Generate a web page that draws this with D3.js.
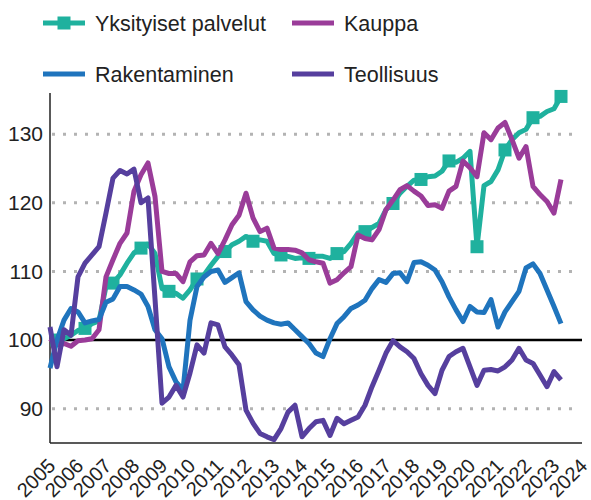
<!DOCTYPE html>
<html><head><meta charset="utf-8">
<script src="https://cdn.jsdelivr.net/npm/d3@7"></script>
<style>
html,body{margin:0;padding:0;background:#fff;}
svg{display:block;font-family:"Liberation Sans",Arial,sans-serif;}
</style></head>
<body><svg id="c" width="591" height="500"></svg>
<script>
const seriesNames = ["Yksityiset palvelut", "Kauppa", "Rakentaminen", "Teollisuus"];
const seriesColors = ["#1fb19e", "#9a3c99", "#1f74bd", "#563f9e"];
const startYear = 2005;
const quarters = d3.range(74).map(i => (startYear + Math.floor(i / 4)) + "Q" + (i % 4 + 1));
const yksityiset = [100.2,100.0,100.2,100.7,101.4,101.7,102.4,102.8,107.8,108.3,109.5,111.2,112.7,113.4,114.0,112.6,107.5,107.1,106.8,106.1,107.3,108.9,109.5,110.9,112.2,112.9,113.9,114.4,115.1,114.4,114.6,114.4,112.6,112.4,112.2,111.9,112.0,111.9,112.2,112.2,111.9,112.6,112.9,114.1,115.6,115.8,116.4,117.0,119.0,119.9,121.4,122.4,123.3,123.4,123.8,123.9,124.6,126.1,125.9,126.5,127.5,113.6,122.5,123.1,124.8,127.7,129.2,130.2,130.7,132.4,132.6,133.3,133.7,135.5];
const kauppa = [100.2,99.3,99.5,99.1,99.9,100.0,100.2,101.5,109.2,111.7,114.1,115.6,121.7,124.1,125.8,120.9,110.0,109.7,109.7,108.5,111.4,112.3,112.4,114.1,112.6,114.6,116.8,118.2,121.4,117.8,115.8,116.3,113.4,113.2,113.2,113.1,112.7,111.7,111.4,111.2,108.3,108.8,109.8,110.7,115.3,114.8,114.6,116.1,119.0,120.4,121.9,122.5,121.7,121.0,119.6,119.7,119.2,121.7,122.4,126.1,125.1,123.8,130.2,129.2,130.9,131.7,129.2,126.5,128.2,122.4,121.2,120.2,118.5,123.4];
const rakentaminen = [95.9,100.0,102.9,104.6,104.1,102.5,102.8,103.0,105.5,106.0,107.8,107.8,107.3,106.7,104.9,101.5,100.2,96.1,93.9,92.7,102.9,107.8,109.2,110.0,110.2,108.4,109.1,109.8,105.6,104.4,103.5,102.9,102.5,102.3,102.5,101.5,100.5,99.5,98.1,97.6,100.2,102.4,103.4,104.6,105.1,105.8,107.5,108.8,108.4,109.7,109.8,108.5,111.3,111.4,110.9,110.2,108.5,106.3,104.4,102.7,104.9,104.1,104.0,105.9,101.9,104.1,105.6,107.1,110.5,111.1,109.7,107.3,104.9,102.4];
const teollisuus = [101.9,96.1,101.5,100.7,109.2,111.2,112.4,113.6,118.5,123.6,124.7,124.2,124.9,120.0,120.7,106.0,90.8,91.7,93.4,91.7,95.2,99.3,98.1,102.5,102.2,99.0,97.8,96.4,89.8,87.9,86.4,85.9,85.5,87.1,89.5,90.5,85.9,87.1,88.1,88.3,86.1,88.6,87.8,88.3,88.8,90.5,93.2,95.6,98.1,99.9,99.0,98.3,97.3,95.1,93.4,92.2,95.6,97.6,98.3,98.8,96.1,93.4,95.6,95.7,95.5,96.1,97.1,98.8,97.1,96.6,94.9,93.2,95.4,94.2];
const yTicks = [90, 100, 110, 120, 130];
const xTickLabels = ["2005","2006","2007","2008","2009","2010","2011","2012","2013","2014","2015","2016","2017","2018","2019","2020","2021","2022","2023","2024"];

const svg = d3.select("#c");
const L = 50, R = 582, T = 93, B = 443;
const qToX = q => +q.slice(0,4) + (+q.slice(5) - 1) / 4;
const x = d3.scaleLinear().domain([2005, 2024]).range([L, R]);
const y = d3.scaleLinear().domain([85, 136]).range([B, T]);

// grid
svg.append("g").selectAll("line").data(yTicks.filter(v => v !== 100)).join("line")
  .attr("x1", L + 2).attr("x2", R - 2)
  .attr("y1", d => y(d)).attr("y2", d => y(d))
  .attr("stroke", "#b3b3b3").attr("stroke-width", 3).attr("stroke-dasharray", "3,8");

// baseline 100
svg.append("line").attr("x1", L).attr("x2", R).attr("y1", y(100)).attr("y2", y(100))
  .attr("stroke", "#000").attr("stroke-width", 2.5);

// y axis
const yAxis = d3.axisLeft(y).tickValues(yTicks).tickSize(0).tickPadding(7);
const gy = svg.append("g").attr("transform", `translate(${L},0)`).call(yAxis);
gy.select(".domain").remove();
gy.selectAll("text").attr("font-size", 21).attr("fill", "#222").attr("font-family", "Liberation Sans, Arial, sans-serif");

// x axis
const xAxis = d3.axisBottom(x).tickValues(xTickLabels.map(Number)).tickFormat((d,i) => xTickLabels[i]).tickSize(0);
const gx = svg.append("g").attr("transform", `translate(0,${B})`).call(xAxis);
gx.select(".domain").remove();
gx.selectAll("text").attr("font-size", 20).attr("fill", "#222")
  .attr("font-family", "Liberation Sans, Arial, sans-serif")
  .attr("text-anchor", "end").attr("dy", 0)
  .attr("transform", "translate(4,22) rotate(-45)");

// axis lines
svg.append("line").attr("x1", L).attr("x2", L).attr("y1", T).attr("y2", B).attr("stroke", "#222").attr("stroke-width", 1.5);
svg.append("line").attr("x1", L).attr("x2", R).attr("y1", B).attr("y2", B).attr("stroke", "#222").attr("stroke-width", 1.5);

const allSeries = [yksityiset, kauppa, rakentaminen, teollisuus];
const line = d3.line().x((d,i) => x(qToX(quarters[i]))).y(d => y(d));
allSeries.forEach((s, k) => {
  svg.append("path").datum(s).attr("d", line).attr("fill", "none")
    .attr("stroke", seriesColors[k]).attr("stroke-width", 5).attr("stroke-linejoin", "round");
  if (k === 0) {
    svg.append("g").selectAll("rect").data(s.map((v,i)=>({v,i})).filter(d => d.i % 4 === 1)).join("rect")
      .attr("x", d => x(qToX(quarters[d.i])) - 6.5).attr("y", d => y(d.v) - 6.5)
      .attr("width", 13).attr("height", 13).attr("fill", seriesColors[0]);
  }
});

// legend
const legPos = [[43, 23], [292, 23], [43, 74], [292, 74]];
seriesNames.forEach((n, k) => {
  const [lx, ly] = legPos[k];
  svg.append("line").attr("x1", lx).attr("x2", lx + 42).attr("y1", ly).attr("y2", ly)
    .attr("stroke", seriesColors[k]).attr("stroke-width", 5);
  if (k === 0) svg.append("rect").attr("x", lx + 14.5).attr("y", ly - 6.5).attr("width", 13).attr("height", 13).attr("fill", seriesColors[0]);
  svg.append("text").attr("x", lx + 52).attr("y", ly).attr("dy", "0.35em")
    .attr("font-size", 21.5).attr("fill", "#222").text(n);
});
</script></body></html>
